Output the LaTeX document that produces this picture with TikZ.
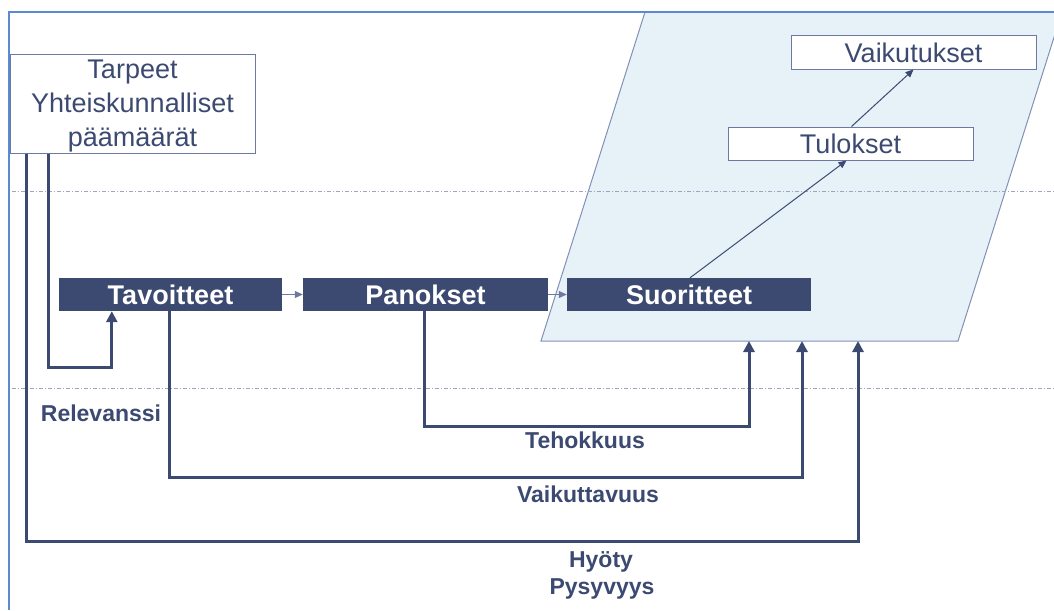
\documentclass[tikz,border=0pt]{standalone}
\usepackage{fontspec}
\setmainfont{Liberation Sans}
\usetikzlibrary{arrows.meta,calc}
\definecolor{navy}{HTML}{3C4A72}
\definecolor{frameblue}{HTML}{5B8AD0}
\definecolor{paral}{HTML}{E7F2F8}
\definecolor{paraledge}{HTML}{8290B5}
\definecolor{dotcol}{HTML}{9EA6BE}
\definecolor{thinbox}{HTML}{6C7AA2}
\tikzset{
  darkbox/.style={fill=navy, draw=none, text=white, font=\fontsize{27}{30}\selectfont\bfseries, minimum height=33pt, inner sep=0pt},
  whitebox/.style={fill=white, draw=thinbox, line width=1pt, text=navy, font=\fontsize{27}{30}\selectfont, minimum height=33pt, inner sep=0pt},
  conn/.style={draw=navy, line width=3pt, -{Triangle[width=11pt,length=11pt]}},
  thinarrow/.style={draw=navy, line width=1pt, -{Triangle[width=7pt,length=8pt]}},
  graylink/.style={draw=thinbox, line width=1pt, -{Triangle[width=7pt,length=8pt]}},
  lab/.style={text=navy, font=\fontsize{23}{26}\selectfont\bfseries, anchor=base, inner sep=0pt},
  dotline/.style={draw=dotcol, line width=1pt, dash pattern=on 4pt off 2pt on 1pt off 2pt},
}
\begin{document}
\begin{tikzpicture}[x=1pt,y=-1pt]
\useasboundingbox (0,0) rectangle (1054,610);
% parallelogram
\draw[fill=paral, draw=paraledge, line width=1pt] (645,12) -- (1062,12) -- (958,341) -- (541,341) -- cycle;
% dotted lines
\draw[dotline] (12,191) -- (1054,191);
\draw[dotline] (12,388) -- (1054,388);
% frame
\draw[frameblue, line width=2pt] (9,610) -- (9,12) -- (1054,12);
% boxes
\node[whitebox, minimum width=245pt, minimum height=98pt] (tarpeet) at (132.5,104) {};
\node[text=navy, font=\fontsize{27}{34}\selectfont, align=center, inner sep=0pt] (tarpeettext) at (132.5,106.5) {Tarpeet\\Yhteiskunnalliset\\päämäärät};
\node[darkbox, minimum width=223pt] (tav) at (170.5,294.5) {Tavoitteet};
\node[darkbox, minimum width=245pt] (pan) at (425.5,294.5) {Panokset};
\node[darkbox, minimum width=244pt] (suor) at (689,294.5) {Suoritteet};
\node[whitebox, minimum width=245pt] (tul) at (850.5,143.5) {Tulokset};
\node[whitebox, minimum width=245pt] (vaik) at (913.5,52.5) {Vaikutukset};
% thin arrows
\draw[graylink] (tav.east) -- (pan.west);
\draw[graylink] (pan.east) -- (suor.west);
\draw[thinarrow] ([xshift=1pt]suor.north) -- ([xshift=-4pt]tul.south);
\draw[thinarrow] ([xshift=1pt]tul.north) -- (vaik.south);
% targets on parallelogram bottom
\coordinate (p1) at (749,341);
\coordinate (p2) at (802,341);
\coordinate (p3) at (858,341);
% thick connectors
\draw[conn] ([xshift=39pt]tarpeet.south west) -- ++(0,214) -| ([xshift=53pt]tav.south west);
\draw[conn] ([xshift=122pt]pan.south west) -- ++(0,115) -| (p1);
\draw[conn] ([xshift=111pt]tav.south west) -- ++(0,166) -| (p2);
\draw[conn] ([xshift=17pt]tarpeet.south west) -- ++(0,388) -| (p3);
% labels
\node[lab] (relevanssi) at (101,421) {Relevanssi};
\node[lab] (tehokkuus) at (585,448) {Tehokkuus};
\node[lab] (vaikuttavuus) at (588,502) {Vaikuttavuus};
\node[lab] (hyoty) at (601,567) {Hyöty};
\node[lab] (pysyvyys) at (602,594) {Pysyvyys};
\end{tikzpicture}
\end{document}
